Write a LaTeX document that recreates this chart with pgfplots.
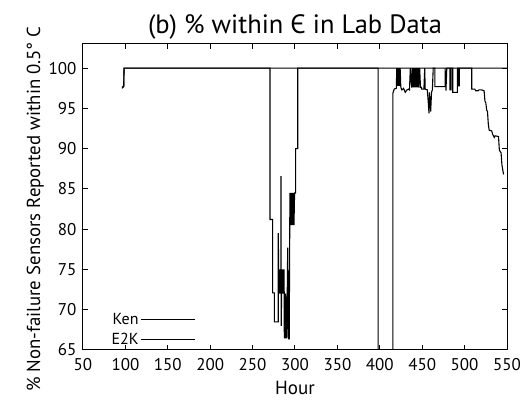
\documentclass[border=0pt]{standalone}
\usepackage{fontspec}
\setmainfont{PT Sans}
\usepackage{pgfplots}
\pgfplotsset{compat=1.18}

\begin{document}
\begin{tikzpicture}
\begin{axis}[
  scale only axis, width=424pt, height=306pt,
  xmin=50, xmax=550, ymin=65, ymax=103,
  xtick={50,100,...,550}, ytick={65,70,...,100},
  tick align=inside, major tick length=5pt,
  tick style={black, line width=1pt},
  axis line style={line width=1pt},
  /pgf/number format/assume math mode=true,
  ticklabel style={font=\fontsize{17}{19}\selectfont},
  xticklabel style={yshift=-5pt},
  yticklabel style={xshift=-3pt},
  title={(b) \% within Є in Lab Data},
  title style={font=\fontsize{26.5}{29}\selectfont, yshift=-5pt},
  xlabel={Hour}, xlabel style={font=\fontsize{19}{21}\selectfont, yshift=-3pt},
  ylabel={\% Non-failure Sensors Reported within 0.5° C},
  ylabel style={font=\fontsize{18.8}{21}\selectfont, yshift=-2pt, xshift=-12pt},
  legend style={draw=none, fill=none, at={(0.055,0.0)}, anchor=south west,
    font=\fontsize{16}{18}\selectfont, row sep=3pt},
  legend cell align=right, legend plot pos=right,
  legend image code/.code={\draw[#1] (6pt,0pt) -- (60pt,0pt);},
]
% Ken
\addplot[black, no markers, line width=1.1pt, line join=miter] coordinates {
(96,97.5)(98,97.7)(98.4,100)(270.5,100)(270.5,81.2)(273.6,81.2)(273.6,72.1)(275.6,72.1)
(275.6,68.5)(280.3,68.5)(280.3,79.5)(281,72)(281.6,75)(282.2,72)(282.8,75)(283.5,72)
(283.5,86.6)(283.8,68)(284.5,75)(285.2,72)(285.9,75)(286.6,72)(287.2,75)(287.4,66.5)
(288.5,66.5)(289,72)(289.5,66.5)(290.5,66.5)(291,74)(291.4,77.7)(292,72)(292.5,66.4)
(293.2,66.4)(293.7,77.7)(294,84.5)(294.6,80.5)(295.3,84.5)(296,80.5)(296.7,84.5)
(297.4,80.5)(298.1,84.5)(298.8,80.5)(299.5,84.5)(300.8,84.5)(300.8,90)(303.2,90)
(303.2,100)(398,100)(398,60)(415.5,60)(415.5,96.9)(417,97.4)(419.5,97.5)(420,100)
(420.5,97.8)(421,100)(421.5,97.8)(422,100)(422.5,97.8)(423,100)(423.5,97.8)(424,100)
(424.8,97.6)(426,97.3)(428,97.5)(430,97.0)(432,97.3)(434,97.4)(435,97.3)(436,100)
(437.6,97.6)(438.2,100)(438.8,97.6)(439.4,100)(440,97.6)(440.6,100)(441.2,97.6)
(441.8,100)(442.4,97.6)(443,100)(443.6,97.6)(444.2,100)(444.8,97.6)(445.4,100)
(446,97.6)(447,100)(448,97.6)(449.3,97.6)(449.3,97.4)(452,97.4)(453,100)(453.5,97.4)
(456,97.3)(457,96)(458,94.4)(458.5,97)(459,95)(459.5,96.5)(460,94.6)(461,97)
(462,97.3)(463,100)(465,100)(465,97.7)(477,97.7)(477,100)(478,97.2)(479,100)
(482.8,100)(482.8,97.3)(484,97.3)(484,100)(486,100)(486,97.0)(491.4,97.0)(491.4,100)
(492.5,100)(492.5,97.8)(493.8,97.8)(493.8,100)(508.4,100)(508.4,97.4)(512,97.4)
(513,97.2)(516,97.2)(517,97.3)(520,97.3)(523,97.2)(524,95.9)(525,95.7)(526,94.8)
(527,94.6)(528,93)(529,92.3)(532,92.2)(533,91.8)(535,91.4)(536,91.6)(540,91.5)
(541,89.8)(543,89.5)(544,88)(545.6,87)(546,86.8)
};
\addlegendentry{Ken}
% E2K
\addplot[black, no markers, line width=1.1pt, line join=miter] coordinates {
(96,97.6)(98,97.8)(98.5,100)(550,100)
};
\addlegendentry{E2K}
\end{axis}
\pgfresetboundingbox
\useasboundingbox (-83pt,-51pt) rectangle (439pt,350pt);
\end{tikzpicture}
\end{document}
